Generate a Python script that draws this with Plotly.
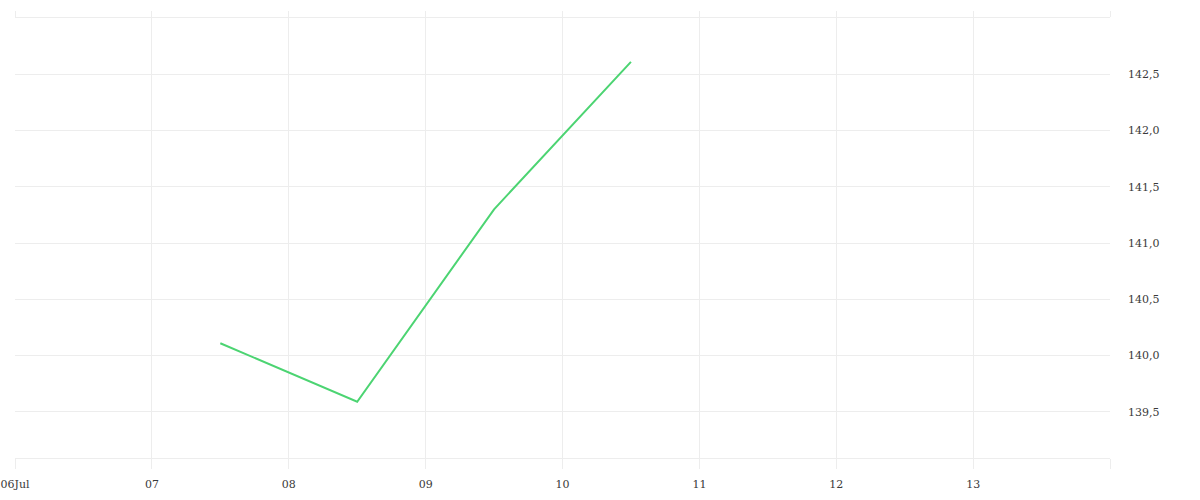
import plotly.graph_objects as go

dates = ["2024-07-07 12:00", "2024-07-08 12:00", "2024-07-09 12:00", "2024-07-10 12:00"]
values = [140.11, 139.59, 141.30, 142.61]

x_tick_vals = ["2024-07-06", "2024-07-07", "2024-07-08", "2024-07-09", "2024-07-10",
               "2024-07-11", "2024-07-12", "2024-07-13", "2024-07-14"]
x_tick_text = ["06Jul", "07", "08", "09", "10", "11", "12", "13", ""]
y_tick_vals = [139.5, 140.0, 140.5, 141.0, 141.5, 142.0, 142.5, 143.0]
y_tick_text = ["139,5", "140,0", "140,5", "141,0", "141,5", "142,0", "142,5", ""]

GRID = "#ededed"
FONT = dict(family="DejaVu Serif", size=11, color="#3a3a3a")

fig = go.Figure()
fig.add_trace(go.Scatter(x=dates, y=values, mode="lines",
                         line=dict(color="#4cd472", width=2), hoverinfo="skip",
                         showlegend=False))

x_range = ["2024-07-06", "2024-07-14"]
fig.update_layout(
    width=1200, height=500,
    margin=dict(l=15, r=90, t=18, b=42, autoexpand=False),
    paper_bgcolor="white", plot_bgcolor="white",
    separators=",.",
    font=FONT,
    hovermode=False,
    xaxis=dict(type="date", range=x_range, tickmode="array",
               tickvals=x_tick_vals, ticktext=x_tick_text,
               showgrid=True, gridcolor=GRID, gridwidth=1,
               ticks="outside", ticklen=10, tickcolor=GRID, tickwidth=1,
               showline=True, linecolor=GRID, linewidth=1,
               zeroline=False, tickfont=FONT, fixedrange=True,
               automargin=False, ticklabelstandoff=6,
               ticklabeloverflow="allow"),
    xaxis2=dict(type="date", range=x_range, overlaying="x", side="top",
                tickmode="array", tickvals=x_tick_vals, showticklabels=False,
                showgrid=False, ticks="outside", ticklen=6, tickcolor=GRID,
                showline=True, linecolor=GRID, linewidth=1, zeroline=False,
                automargin=False, fixedrange=True),
    yaxis=dict(side="right", range=[139.09, 143.0], tickmode="array",
               tickvals=y_tick_vals, ticktext=y_tick_text,
               showgrid=True, gridcolor=GRID, gridwidth=1,
               ticks="", showline=False, zeroline=False,
               ticklabelstandoff=17, tickfont=FONT, fixedrange=True,
               automargin=False),
)
fig.add_trace(go.Scatter(x=x_range, y=[None, None], xaxis="x2", mode="lines",
                         showlegend=False, hoverinfo="skip"))

fig.write_html("out.html", config={"displayModeBar": False, "staticPlot": True},
               post_script="document.body.style.margin='0';document.body.style.overflow='hidden';")
